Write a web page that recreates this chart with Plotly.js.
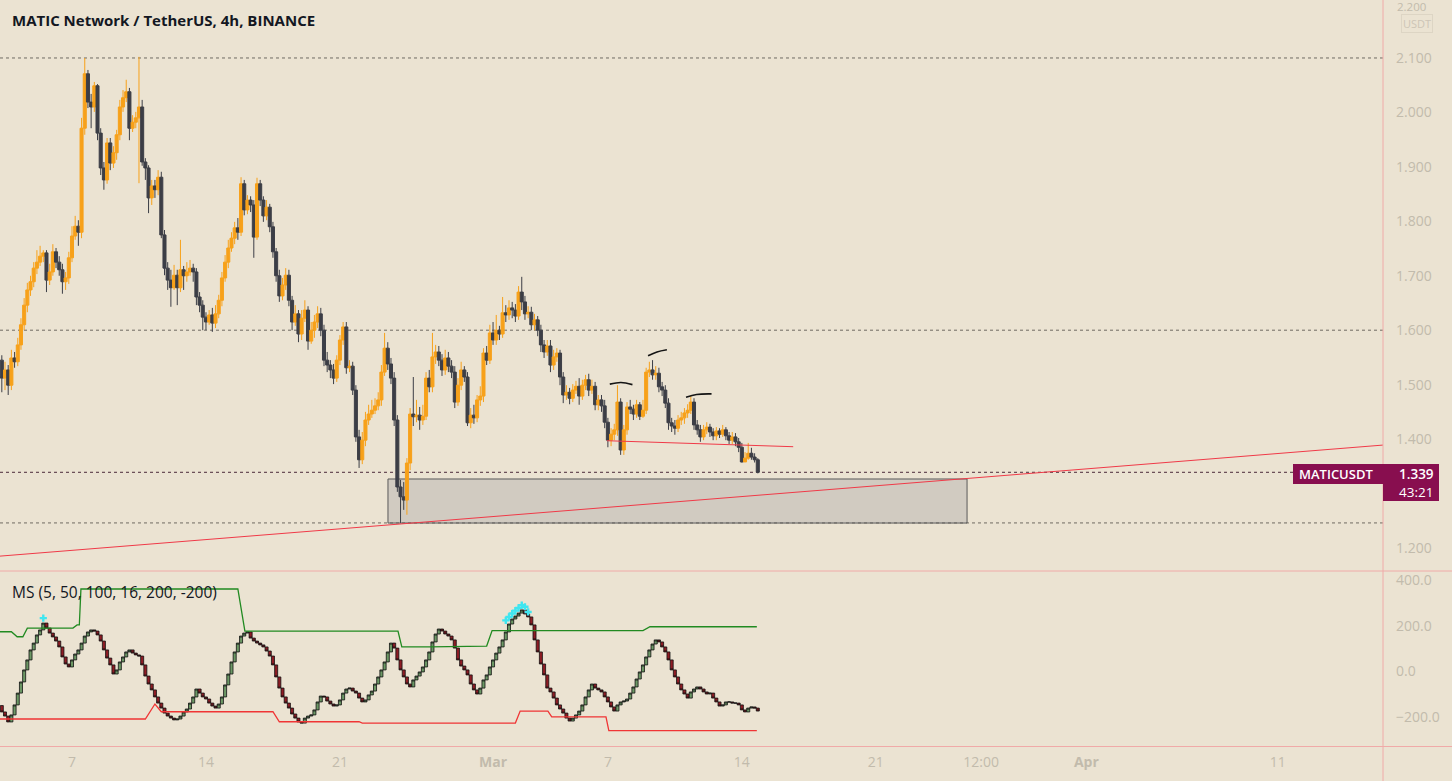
<!DOCTYPE html>
<html>
<head>
<meta charset="utf-8">
<script src="https://cdn.plot.ly/plotly-3.0.1.min.js"></script>
<style>html,body{margin:0;padding:0;background:#ebe3d2;}#chart{width:1452px;height:781px;}</style>
</head>
<body>
<div id="chart"></div>
<script>
// ---------------- DATA ----------------
// 4h bars, index 0 = 2022-02-07 00:00; first bar index -22
const FIRST_BAR = -22;
const firstOpen = 1.545;
const closes = [
1.512,1.527,1.499,1.549,1.542,1.573,1.610,1.646,1.674,1.689,
1.714,1.725,1.736,1.742,1.692,1.707,1.744,1.725,1.711,1.689,
1.696,1.733,1.773,1.791,1.780,1.971,2.071,2.019,2.010,2.049,
1.962,1.898,1.876,1.944,1.907,1.926,1.959,2.010,2.027,2.038,
1.971,1.982,1.990,2.010,1.909,1.898,1.843,1.865,1.858,1.881,
1.775,1.714,1.692,1.678,1.701,1.678,1.711,1.700,1.707,1.714,
1.707,1.661,1.646,1.624,1.615,1.628,1.613,1.630,1.655,1.696,
1.725,1.751,1.769,1.788,1.780,1.869,1.821,1.839,1.830,1.771,
1.869,1.839,1.810,1.826,1.790,1.744,1.700,1.663,1.683,1.701,
1.655,1.615,1.630,1.593,1.622,1.637,1.580,1.600,1.615,1.630,
1.600,1.545,1.536,1.527,1.512,1.545,1.582,1.606,1.531,1.534,
1.490,1.404,1.362,1.398,1.435,1.446,1.453,1.461,1.472,1.523,
1.567,1.538,1.512,1.435,1.312,1.294,1.288,1.356,1.446,1.441,
1.444,1.435,1.442,1.512,1.496,1.551,1.560,1.545,1.527,1.549,
1.534,1.523,1.468,1.499,1.527,1.514,1.430,1.444,1.439,1.472,
1.479,1.558,1.545,1.595,1.582,1.600,1.593,1.632,1.628,1.641,
1.637,1.626,1.670,1.652,1.630,1.633,1.610,1.619,1.600,1.573,
1.560,1.571,1.536,1.551,1.558,1.514,1.481,1.486,1.475,1.490,
1.497,1.479,1.499,1.509,1.490,1.497,1.463,1.472,1.461,1.431,
1.398,1.409,1.417,1.468,1.380,1.417,1.459,1.455,1.446,1.463,
1.442,1.453,1.523,1.527,1.518,1.521,1.496,1.490,1.466,1.430,
1.424,1.420,1.435,1.439,1.448,1.453,1.468,1.426,1.417,1.404,
1.417,1.422,1.413,1.406,1.415,1.409,1.417,1.406,1.398,1.404,
1.395,1.385,1.358,1.365,1.374,1.367,1.362,1.339];
const highs = [
1.554,1.542,1.536,1.564,1.560,1.586,1.622,1.659,1.687,1.700,
1.725,1.747,1.755,1.747,1.747,1.722,1.758,1.751,1.736,1.722,
1.707,1.744,1.791,1.810,1.802,1.990,2.100,2.078,2.034,2.056,
2.052,1.971,1.909,1.953,1.953,1.938,1.968,2.023,2.041,2.060,
2.045,1.995,2.001,2.102,2.023,1.916,1.903,1.876,1.876,1.894,
1.891,1.784,1.725,1.711,1.720,1.711,1.766,1.718,1.725,1.729,
1.722,1.714,1.670,1.655,1.633,1.637,1.641,1.646,1.665,1.707,
1.738,1.766,1.780,1.799,1.806,1.881,1.876,1.848,1.846,1.839,
1.880,1.876,1.846,1.839,1.832,1.799,1.751,1.711,1.696,1.714,
1.711,1.663,1.646,1.637,1.637,1.655,1.644,1.615,1.628,1.644,
1.641,1.610,1.560,1.545,1.538,1.554,1.591,1.615,1.615,1.545,
1.542,1.499,1.417,1.413,1.450,1.463,1.472,1.475,1.486,1.536,
1.595,1.578,1.549,1.523,1.444,1.325,1.321,1.365,1.457,1.514,
1.472,1.459,1.463,1.523,1.527,1.595,1.573,1.571,1.556,1.564,
1.560,1.545,1.534,1.512,1.542,1.534,1.523,1.457,1.463,1.481,
1.497,1.567,1.571,1.610,1.615,1.628,1.608,1.661,1.646,1.655,
1.652,1.648,1.681,1.698,1.663,1.644,1.643,1.630,1.626,1.610,
1.582,1.582,1.582,1.564,1.567,1.564,1.523,1.499,1.494,1.501,
1.507,1.512,1.509,1.518,1.520,1.509,1.505,1.481,1.481,1.472,
1.439,1.420,1.428,1.499,1.475,1.426,1.468,1.472,1.463,1.472,
1.468,1.472,1.531,1.542,1.545,1.534,1.531,1.505,1.499,1.475,
1.439,1.435,1.444,1.450,1.457,1.464,1.479,1.475,1.435,1.426,
1.426,1.431,1.428,1.420,1.422,1.420,1.426,1.422,1.413,1.413,
1.411,1.402,1.393,1.376,1.393,1.384,1.374,1.365];
const lows = [
1.486,1.490,1.481,1.490,1.531,1.534,1.564,1.600,1.633,1.663,
1.679,1.703,1.718,1.725,1.670,1.683,1.700,1.714,1.700,1.667,
1.674,1.685,1.725,1.766,1.755,1.769,1.959,2.008,1.971,2.001,
1.949,1.885,1.858,1.869,1.894,1.898,1.913,1.949,2.001,2.019,
1.949,1.964,1.971,1.870,1.902,1.876,1.815,1.830,1.843,1.848,
1.769,1.701,1.674,1.643,1.674,1.646,1.670,1.674,1.689,1.700,
1.689,1.646,1.633,1.600,1.600,1.610,1.597,1.604,1.622,1.644,
1.689,1.714,1.744,1.758,1.766,1.773,1.811,1.813,1.817,1.733,
1.766,1.828,1.799,1.802,1.780,1.733,1.689,1.652,1.655,1.674,
1.644,1.600,1.608,1.578,1.582,1.615,1.564,1.575,1.586,1.604,
1.589,1.534,1.523,1.512,1.501,1.505,1.536,1.573,1.520,1.523,
1.481,1.395,1.347,1.354,1.387,1.426,1.439,1.446,1.453,1.461,
1.516,1.527,1.501,1.424,1.303,1.246,1.270,1.261,1.343,1.424,
1.431,1.417,1.426,1.435,1.486,1.486,1.538,1.534,1.516,1.518,
1.523,1.512,1.457,1.461,1.490,1.505,1.424,1.420,1.428,1.431,
1.461,1.468,1.536,1.538,1.573,1.573,1.582,1.586,1.615,1.619,
1.622,1.615,1.619,1.637,1.619,1.622,1.600,1.600,1.589,1.560,
1.549,1.553,1.523,1.527,1.542,1.499,1.466,1.472,1.464,1.468,
1.483,1.463,1.472,1.490,1.479,1.483,1.453,1.453,1.450,1.420,
1.385,1.387,1.398,1.406,1.371,1.371,1.408,1.446,1.435,1.439,
1.435,1.439,1.446,1.514,1.509,1.509,1.486,1.479,1.457,1.417,
1.413,1.408,1.413,1.426,1.428,1.439,1.446,1.417,1.408,1.395,
1.398,1.409,1.404,1.398,1.398,1.402,1.404,1.398,1.391,1.391,
1.387,1.376,1.357,1.358,1.362,1.362,1.357,1.337];

// MS oscillator (closes), one per bar
const msFirstOpen = -150;
const msClose = [
-178,-196,-222,-191,-147,-95,-46,7,51,95,
125,161,183,213,191,169,152,134,108,64,
33,20,51,77,95,125,156,174,183,178,
161,134,95,59,29,-11,7,42,64,86,
95,81,73,68,29,-20,-55,-81,-112,-139,
-161,-183,-196,-205,-213,-209,-196,-178,-165,-139,
-112,-77,-95,-112,-121,-139,-152,-161,-143,-112,
-59,-11,42,86,125,156,169,174,147,134,
125,117,108,90,68,29,-24,-73,-112,-139,
-161,-187,-205,-222,-227,-205,-196,-191,-169,-134,
-108,-112,-130,-143,-152,-147,-125,-95,-77,-73,
-86,-95,-117,-134,-125,-103,-86,-55,-24,7,
42,86,125,103,51,7,-24,-55,-68,-37,
-20,-2,20,51,86,130,165,187,178,165,
156,139,103,51,24,7,-15,-55,-81,-99,
-73,-37,-15,20,51,81,108,139,174,209,
231,244,257,271,253,240,205,139,86,33,
-15,-73,-90,-117,-147,-165,-183,-205,-218,-205,
-191,-174,-147,-112,-81,-55,-73,-81,-90,-112,
-134,-156,-174,-147,-134,-130,-121,-95,-68,-33,
-2,29,64,95,121,139,130,108,86,51,
7,-24,-55,-81,-99,-117,-90,-77,-68,-77,
-90,-99,-95,-117,-134,-152,-147,-134,-134,-139,
-139,-147,-169,-178,-161,-156,-161,-174];

// MS upper (green) and lower (red) bands: bar index / value breakpoints
const upperIdx = [-22.6,-19,-17.2,-15.4,-14,0.3,1.6,2.3,2.8,52,54.2,102.2,103.4,112,130,131.7,179,181.2,214.7];
const upperVal = [175,175,153,153,191,191,205,205,363,363,178,178,108,108,112,180,180,197,197];
const lowerIdx = [-22.6,23,26,28,63,65,90,91,139,140.5,149.2,150.4,167.4,168.3,214.7];
const lowerVal = [-209,-209,-143,-177,-177,-221,-221,-227,-227,-174,-174,-200,-200,-260,-260];

// cyan signal markers
const cyanIdx = [-9,136,137,138,139,140,141,142,143];
const cyanVal = [235,225,240,255,268,280,292,285,262];

// drawings
const arc1K = [168.6,172.1,175.7], arc1P = [1.501,1.504,1.500];
const arc2K = [180.6,183.4,186.5], arc2P = [1.553,1.560,1.564];
const arc3K = [192.5,195.8,200.5], arc3P = [1.477,1.482,1.483];
const trendK = [-22.6,411], trendP = [1.185,1.389];
const neckK = [167.7,226.1], neckP = [1.397,1.386];
const boxK = [99.06,280.6], boxP = [1.2458,1.3267];
const hLevels = [2.1,1.6,1.246];
const lastPrice = 1.339;

const xTickDates = ['2022-02-07','2022-02-14','2022-02-21','2022-03-01','2022-03-07','2022-03-14','2022-03-21','2022-03-26 12:00','2022-04-01','2022-04-11'];
const xTickText = ['7','14','21','<b>Mar</b>','7','14','21','12:00','<b>Apr</b>','11'];
const yTicks = [1.2,1.4,1.5,1.6,1.7,1.8,1.9,2.0,2.1];
const yTopLabel = 2.2;
const y2Ticks = [-200,0,200,400];

// ---------------- BUILD ----------------
const T0 = Date.UTC(2022,1,7,0,0,0);
const BAR = 4*3600*1000;
function tk(k){ return new Date(T0 + k*BAR).toISOString().replace('T',' ').replace('Z',''); }

const times = closes.map((_,i)=>tk(FIRST_BAR+i));
const opens = closes.map((c,i)=> i===0 ? firstOpen : closes[i-1]);
const hi = highs.map((h,i)=>Math.max(h,opens[i],closes[i]));
const lo = lows.map((l,i)=>Math.min(l,opens[i],closes[i]));
const msOpen = msClose.map((c,i)=> i===0 ? msFirstOpen : msClose[i-1]);
const msHi = msClose.map((c,i)=>Math.max(c,msOpen[i]));
const msLo = msClose.map((c,i)=>Math.min(c,msOpen[i]));

const BG = '#ebe3d2';
const TICK = '#c2bbac';
const FONT = 'Open Sans, Noto Sans, sans-serif';

const traces = [
  {type:'candlestick', x:times, open:opens, high:hi, low:lo, close:closes, xaxis:'x', yaxis:'y',
   increasing:{line:{color:'#f7a11a',width:1}, fillcolor:'#f7a11a'},
   decreasing:{line:{color:'#3c3e46',width:1}, fillcolor:'#3c3e46'},
   whiskerwidth:0, hoverinfo:'skip', showlegend:false},
  {type:'scatter', mode:'lines', x:upperIdx.map(tk), y:upperVal, xaxis:'x', yaxis:'y2',
   line:{color:'#218a21', width:1.3}, hoverinfo:'skip', showlegend:false},
  {type:'scatter', mode:'lines', x:lowerIdx.map(tk), y:lowerVal, xaxis:'x', yaxis:'y2',
   line:{color:'#f03535', width:1.3}, hoverinfo:'skip', showlegend:false},
  {type:'candlestick', x:times, open:msOpen, high:msHi, low:msLo, close:msClose, xaxis:'x', yaxis:'y2',
   increasing:{line:{color:'#111111',width:0.8}, fillcolor:'#6c9865'},
   decreasing:{line:{color:'#111111',width:0.8}, fillcolor:'#8e1c24'},
   whiskerwidth:0, hoverinfo:'skip', showlegend:false},
  {type:'scatter', mode:'markers', x:cyanIdx.map(tk), y:cyanVal, xaxis:'x', yaxis:'y2',
   marker:{symbol:'cross', size:6, color:'#3fe6f0'}, hoverinfo:'skip', showlegend:false}
];
[[arc1K,arc1P],[arc2K,arc2P],[arc3K,arc3P]].forEach(a=>{
  traces.push({type:'scatter', mode:'lines', x:a[0].map(tk), y:a[1], xaxis:'x', yaxis:'y',
    line:{color:'#141414', width:1.6, shape:'spline'}, hoverinfo:'skip', showlegend:false});
});

const PLOT_W = 1383, PLOT_H = 746;
const px = v => v/PLOT_W;
const py = v => (PLOT_H - v)/PLOT_H;

const shapes = [];
hLevels.forEach(l=>shapes.push({type:'line', xref:'paper', yref:'y', x0:0, x1:1, y0:l, y1:l,
  line:{color:'#6f6a62', width:1, dash:'dot'}, layer:'below'}));
shapes.push({type:'line', xref:'paper', yref:'y', x0:0, x1:1, y0:lastPrice, y1:lastPrice,
  line:{color:'#4a2a3a', width:1, dash:'dot'}, layer:'below'});
shapes.push({type:'rect', xref:'x', yref:'y', x0:tk(boxK[0]), x1:tk(boxK[1]), y0:boxP[0], y1:boxP[1],
  fillcolor:'rgba(120,120,130,0.22)', line:{color:'#5a5a5a', width:1}, layer:'below'});
shapes.push({type:'line', xref:'x', yref:'y', x0:tk(trendK[0]), x1:tk(trendK[1]), y0:trendP[0], y1:trendP[1],
  line:{color:'#f03a48', width:1}});
shapes.push({type:'line', xref:'x', yref:'y', x0:tk(neckK[0]), x1:tk(neckK[1]), y0:neckP[0], y1:neckP[1],
  line:{color:'#f03a48', width:1}});
// pane separators / axis border
shapes.push({type:'line', xref:'paper', yref:'paper', x0:0, x1:1452/PLOT_W, y0:py(571), y1:py(571), line:{color:'#f0aaa8', width:1}});
shapes.push({type:'line', xref:'paper', yref:'paper', x0:0, x1:1452/PLOT_W, y0:py(746.5), y1:py(746.5), line:{color:'#f0aaa8', width:1}});
shapes.push({type:'line', xref:'paper', yref:'paper', x0:1, x1:1, y0:py(781), y1:1, line:{color:'#f0aaa8', width:1}});
// last price label
shapes.push({type:'rect', xref:'paper', yref:'paper', x0:px(1293), x1:px(1384), y0:py(484), y1:py(464), fillcolor:'#880e4f', line:{width:0}});
shapes.push({type:'rect', xref:'paper', yref:'paper', x0:px(1383), x1:px(1439), y0:py(501), y1:py(464), fillcolor:'#880e4f', line:{width:0}});

const annotations = [
  {xref:'paper', yref:'paper', x:px(10), y:py(20), xanchor:'left', yanchor:'middle', showarrow:false,
   text:'MATIC Network / TetherUS, 4h, BINANCE', font:{family:FONT, size:15, color:'#131722', weight:700}},
  {xref:'paper', yref:'paper', x:px(10), y:py(592), xanchor:'left', yanchor:'middle', showarrow:false,
   text:'MS (5, 50, 100, 16, 200, -200)', font:{family:FONT, size:15.5, color:'#131722'}},
  {xref:'paper', yref:'paper', x:px(1336), y:py(474), xanchor:'center', yanchor:'middle', showarrow:false,
   text:'MATICUSDT', font:{family:FONT, size:13, color:'#ffffff', weight:600}},
  {xref:'paper', yref:'paper', x:px(1416), y:py(474), xanchor:'center', yanchor:'middle', showarrow:false,
   text:lastPrice.toFixed(3), font:{family:FONT, size:13.5, color:'#ffffff', weight:600}},
  {xref:'paper', yref:'paper', x:px(1416), y:py(492), xanchor:'center', yanchor:'middle', showarrow:false,
   text:'43:21', font:{family:FONT, size:13.5, color:'#ffffff'}},
  {xref:'paper', yref:'paper', x:px(1395), y:py(6), xanchor:'left', yanchor:'middle', showarrow:false,
   text:yTopLabel.toFixed(3), font:{family:FONT, size:11.5, color:TICK}},
  {xref:'paper', yref:'paper', x:px(1417), y:py(23), xanchor:'center', yanchor:'middle', showarrow:false,
   text:'USDT', font:{family:FONT, size:11, color:'#cdc5b6'}, bordercolor:'#ddd5c4', borderwidth:1, borderpad:1, bgcolor:BG}
];

const layout = {
  width:1452, height:781,
  paper_bgcolor:BG, plot_bgcolor:BG,
  margin:{l:0, r:69, t:0, b:35, pad:0},
  showlegend:false, dragmode:false, hovermode:false,
  boxgap:0.05, boxgroupgap:0,
  font:{family:FONT, size:14, color:TICK},
  xaxis:{type:'date', range:[tk(-22.57), tk(411)], anchor:'y2', rangeslider:{visible:false},
    tickmode:'array', tickvals:xTickDates, ticktext:xTickText, tickfont:{family:FONT, size:14, color:TICK},
    showgrid:false, zeroline:false, showline:false, ticks:'', ticklabelstandoff:6, fixedrange:true},
  yaxis:{domain:[py(571),1], range:[1.1577,2.2065], side:'right', anchor:'x',
    tickmode:'array', tickvals:yTicks, ticktext:yTicks.map(v=>v.toFixed(3)), tickfont:{family:FONT, size:14, color:TICK},
    showgrid:false, zeroline:false, showline:false, ticks:'', ticklabelstandoff:12, fixedrange:true},
  yaxis2:{domain:[0,py(572)], range:[-327.8,437.8], side:'right', anchor:'x',
    tickmode:'array', tickvals:y2Ticks, ticktext:y2Ticks.map(v=>(v<0?'\u2212':'')+Math.abs(v).toFixed(1)), tickfont:{family:FONT, size:14, color:TICK},
    showgrid:false, zeroline:false, showline:false, ticks:'', ticklabelstandoff:12, fixedrange:true},
  shapes:shapes, annotations:annotations
};

Plotly.newPlot('chart', traces, layout, {staticPlot:true, displayModeBar:false});
</script>
</body>
</html>
